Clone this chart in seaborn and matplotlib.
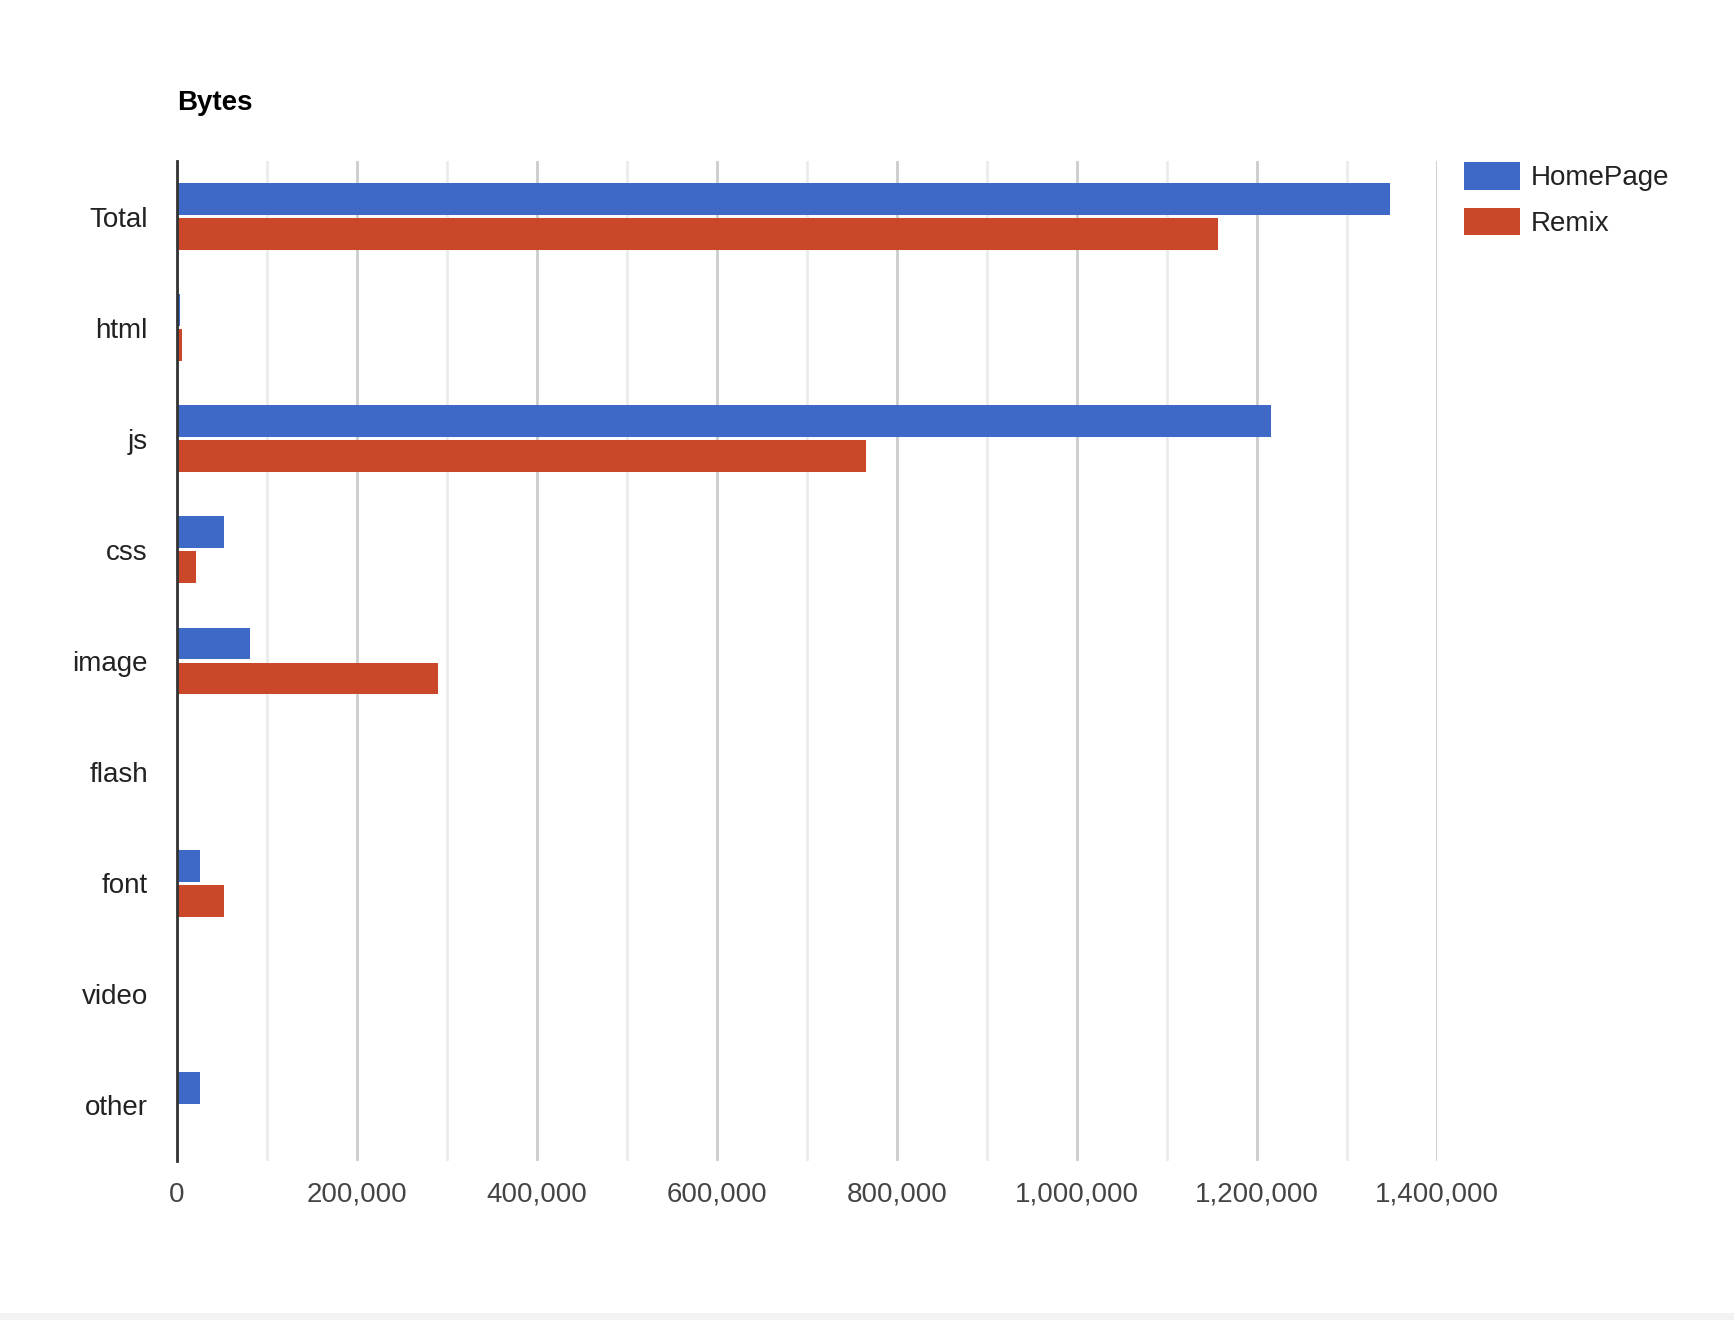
import matplotlib
matplotlib.use("Agg")
import matplotlib.pyplot as plt
import matplotlib.ticker as mticker
from matplotlib.patches import Rectangle
import seaborn as sns
import pandas as pd

categories = ["Total", "html", "js", "css", "image", "flash", "font", "video", "other"]
homepage = [1348000, 3300, 1215000, 52500, 81000, 0, 25500, 0, 25500]
remix = [1157000, 5500, 765000, 21000, 290000, 0, 52500, 0, 0]
series_names = ["HomePage", "Remix"]
colors = ["#3F69C7", "#CB4729"]
x_ticks = [0, 200000, 400000, 600000, 800000, 1000000, 1200000, 1400000]

df = pd.DataFrame({
    "category": categories * 2,
    "value": homepage + remix,
    "series": [series_names[0]] * len(categories) + [series_names[1]] * len(categories),
})

sns.set_theme(style="white")
plt.rcParams["font.family"] = ["Liberation Sans", "DejaVu Sans"]

W, H = 1734, 1320
fig = plt.figure(figsize=(W / 100, H / 100), dpi=100)
ax = fig.add_axes([177 / W, 1 - 1161 / H, (1437 - 177) / W, (1161 - 161) / H])

sns.barplot(data=df, y="category", x="value", hue="series", order=categories,
            hue_order=series_names, palette=colors, orient="h", width=0.63,
            gap=0.086, saturation=1, linewidth=0, ax=ax, legend=True)

ax.set_xlim(0, 1400000)
ax.set_ylim(len(categories) - 0.5, -0.5)
ax.set_xticks(x_ticks)
ax.xaxis.set_minor_locator(mticker.MultipleLocator(100000))
ax.xaxis.set_major_formatter(mticker.FuncFormatter(lambda v, p: f"{int(v):,}"))
ax.grid(axis="x", which="major", color="#cccccc", linewidth=2, zorder=0)
ax.grid(axis="x", which="minor", color="#ebebeb", linewidth=2, zorder=0)
ax.grid(axis="y", visible=False)
ax.set_axisbelow(True)
for s in ["top", "right", "bottom"]:
    ax.spines[s].set_visible(False)
ax.spines["left"].set_color("#333333")
ax.spines["left"].set_linewidth(2)
ax.spines["left"].set_zorder(5)
ax.set_xlabel("")
ax.set_ylabel("")
ax.tick_params(axis="x", which="both", length=0, pad=15, labelsize=20, labelcolor="#444444")
ax.tick_params(axis="y", length=0, pad=21, labelsize=20, labelcolor="#222222")

handles, labels = ax.get_legend_handles_labels()
ax.legend_.remove()
fig.legend(handles, labels, loc="upper left", bbox_to_anchor=(1464 / W, 1 - 162 / H),
           frameon=False, fontsize=20, handlelength=2.0, handleheight=1.15,
           handletextpad=0.4, labelspacing=0.6, borderpad=0, borderaxespad=0,
           labelcolor="#222222")

fig.text(177 / W, 1 - 103 / H, "Bytes", fontsize=20, fontweight="bold",
         color="#000000", ha="left", va="center")

fig.patches.append(Rectangle((0, 0), 1, 7 / H, transform=fig.transFigure,
                             facecolor="#f2f2f2", edgecolor="none", zorder=0))

fig.savefig("out.png", dpi=100)
